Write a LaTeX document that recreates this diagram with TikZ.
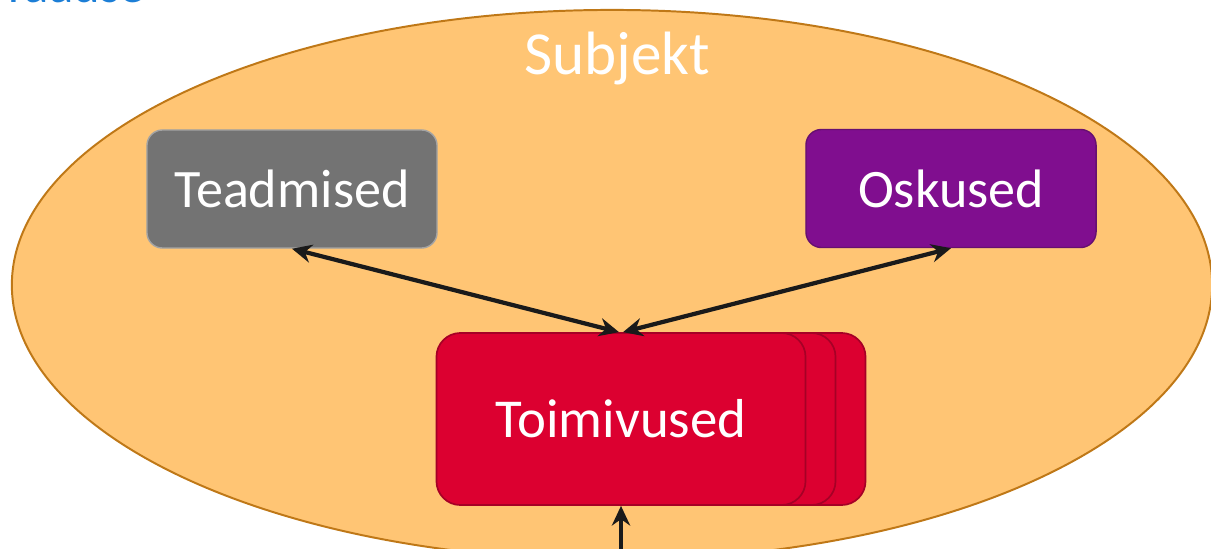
\documentclass[tikz,border=0pt]{standalone}
\usepackage{fontspec}
\setmainfont{Carlito}
\usetikzlibrary{shapes.geometric,arrows.meta}
\definecolor{ellfill}{HTML}{FFC574}
\definecolor{elldraw}{HTML}{BF7817}
\definecolor{grayfill}{HTML}{737373}
\definecolor{graydraw}{HTML}{A3A3A3}
\definecolor{purpfill}{HTML}{800E8F}
\definecolor{purpdraw}{HTML}{661070}
\definecolor{redfill}{HTML}{DC0030}
\definecolor{reddraw}{HTML}{A60026}
\definecolor{titleblue}{HTML}{1C7ED6}
\definecolor{arrowcol}{HTML}{1A1A1A}
\tikzset{
  box/.style={rectangle, rounded corners=11pt, minimum width=7.25cm, minimum height=2.95cm,
    line width=1pt, text=white, font=\fontsize{38.5}{40}\selectfont, inner sep=0pt},
  redbox/.style={rectangle, rounded corners=17pt, minimum width=9.225cm, minimum height=4.3cm,
    fill=redfill, draw=reddraw, line width=1.2pt, inner sep=0pt},
  conn/.style={line width=3pt, draw=arrowcol,
    {Stealth[length=14pt,width=13pt]}-{Stealth[length=14pt,width=13pt]}},
  uparrow/.style={line width=3pt, draw=arrowcol, -{Stealth[length=14pt,width=13pt]}}
}
\begin{document}
\begin{tikzpicture}[x=0.025cm,y=-0.025cm]
\useasboundingbox (0,0) rectangle (1211,548);
% title (mostly cut off)
\node[anchor=base west, text=titleblue, font=\fontsize{36}{36}\selectfont, inner sep=0pt] (title) at (8,2.5) {raadse};
% subject ellipse
\node[ellipse, fill=ellfill, draw=elldraw, line width=1.4pt, minimum width=30cm,
  minimum height=13.75cm, inner sep=0pt] (subj) at (612,285) {};
\node[anchor=base, text=white, font=\fontsize{43.5}{45}\selectfont, inner sep=0pt] (subjlabel) at (617,74) {Subjekt};
% knowledge and skills
\node[box, fill=grayfill, draw=graydraw] (tead) at (292,189) {Teadmised};
\node[box, fill=purpfill, draw=purpdraw] (osk) at (951,188.5) {Oskused};
% stacked activity boxes
\node[redbox] (toimc) at (681,419) {};
\node[redbox] (toimb) at (651,419) {};
\node[redbox, text=white, font=\fontsize{39}{40}\selectfont] (toim) at (621,419) {Toimivused};
% connectors
\draw[conn] (tead.south) -- ([xshift=-0.05cm]toim.north);
\draw[conn] (osk.south) -- ([xshift=0.05cm]toim.north);
\coordinate (below) at (621,570);
\draw[uparrow] (below) -- (toim.south);
\end{tikzpicture}
\end{document}
